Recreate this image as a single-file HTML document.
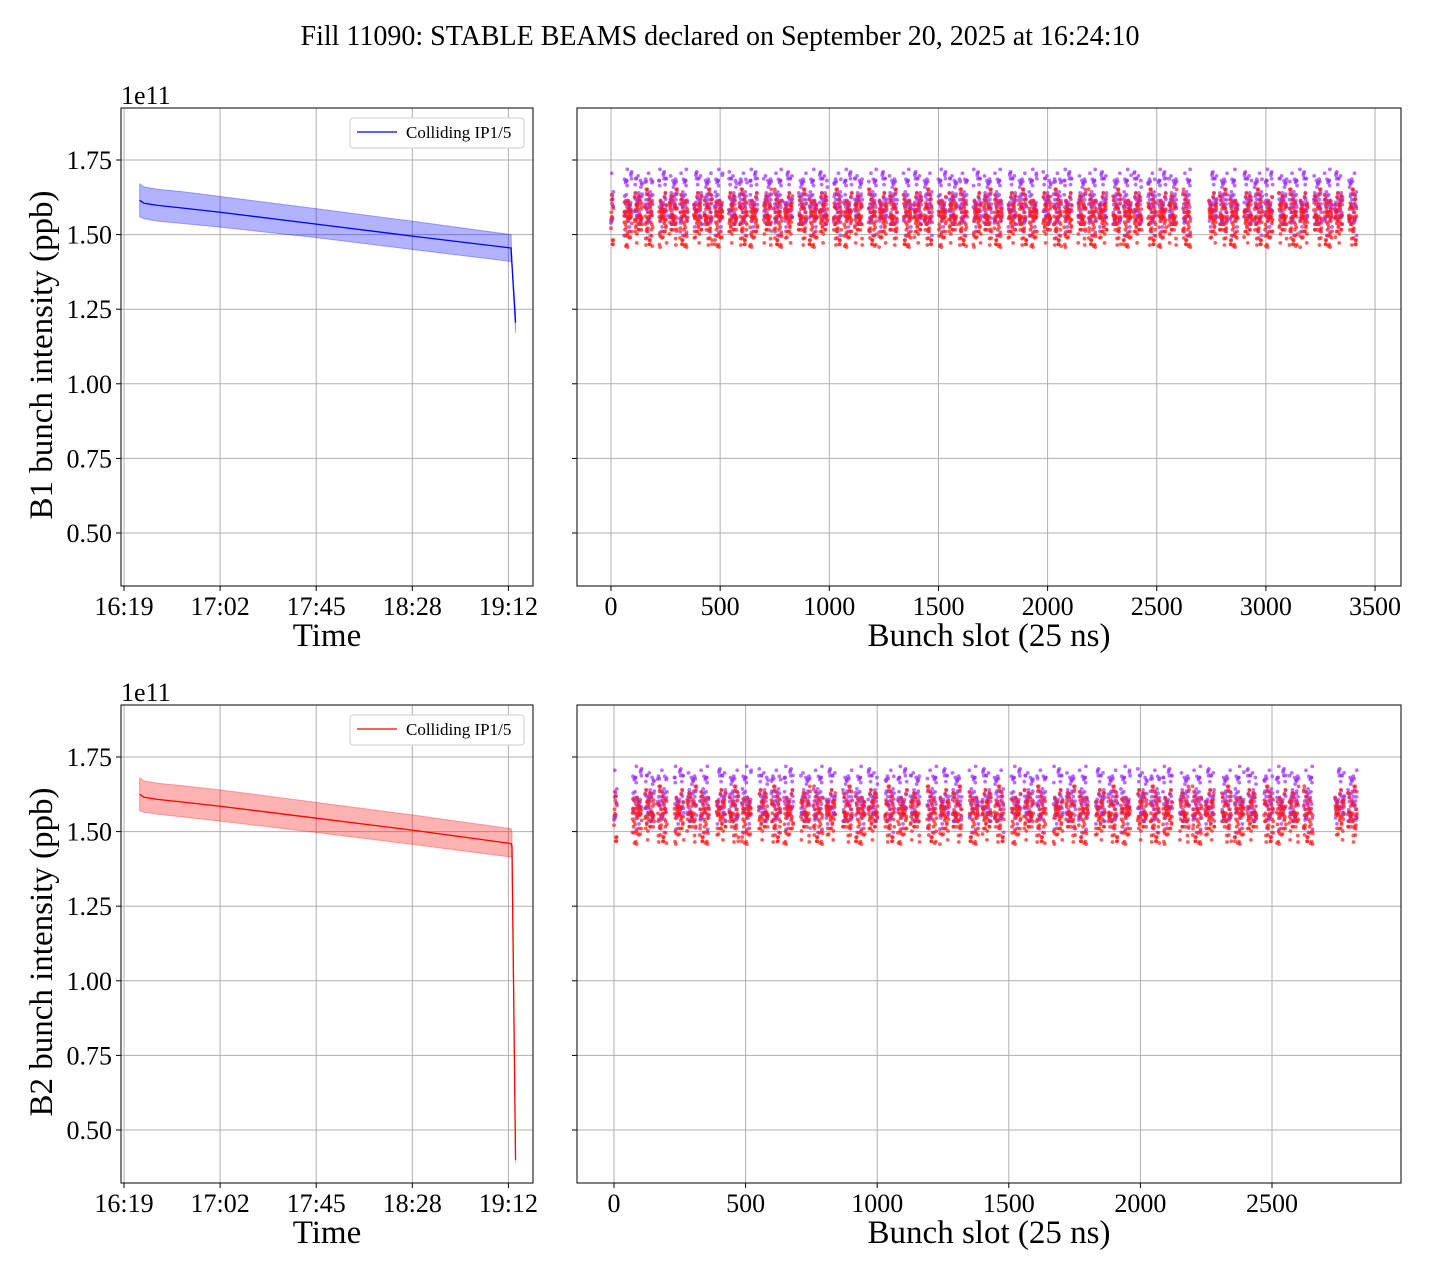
<!DOCTYPE html>
<html><head><meta charset="utf-8"><style>
body{margin:0;background:#fff;}
svg text{font-family:"Liberation Serif",serif;fill:#000;}
</style></head><body>
<svg id="c" width="1440" height="1280" xmlns="http://www.w3.org/2000/svg">
<text x="720" y="45" font-size="28" text-anchor="middle">Fill 11090: STABLE BEAMS declared on September 20, 2025 at 16:24:10</text>
</svg>
<script>
// ---- data ----
const timeTicks = ["16:19","17:02","17:45","18:28","19:12"];
const timeTickMin = [0,43,86,129,172];
const yTicks = [0.50,0.75,1.00,1.25,1.50,1.75];
const b1Time = [7,9,15,25,43,86,129,173.2,173.6,175.2];
const b1Mean = [1.615,1.605,1.598,1.590,1.575,1.535,1.495,1.455,1.40,1.205];
const b1Lo   = [1.56,1.553,1.545,1.538,1.525,1.49,1.45,1.41,1.40,1.17];
const b1Hi   = [1.67,1.66,1.652,1.645,1.628,1.587,1.545,1.50,1.40,1.24];
const b2Time = [7,9,15,25,43,86,129,173.2,173.6,175.2];
const b2Mean = [1.625,1.615,1.608,1.60,1.585,1.545,1.505,1.46,1.45,0.40];
const b2Lo   = [1.57,1.565,1.558,1.55,1.535,1.497,1.457,1.415,1.41,0.39];
const b2Hi   = [1.68,1.67,1.662,1.655,1.64,1.598,1.556,1.51,1.50,0.42];
const slotTicksTop = [0,500,1000,1500,2000,2500,3000,3500];
const slotTicksBot = [0,500,1000,1500,2000,2500];
const trainsTop = [0,60,108,156,220,268,316,380,428,476,540,588,636,700,748,796,860,908,956,1020,1068,1116,1180,1228,1276,1340,1388,1436,1500,1548,1596,1660,1708,1756,1820,1868,1916,1980,2028,2076,2140,2188,2236,2300,2348,2396,2460,2508,2556,2620,2740,2788,2836,2900,2948,2996,3060,3108,3156,3220,3268,3316,3380];
const trainsBot = [0,70,118,166,230,278,326,390,438,486,550,598,646,710,758,806,870,918,966,1030,1078,1126,1190,1238,1286,1350,1398,1446,1510,1558,1606,1670,1718,1766,1830,1878,1926,1990,2038,2086,2150,2198,2246,2310,2358,2406,2470,2518,2566,2620,2740,2788];
const trainLen = 36;
const purpleMean = 1.605, redMean = 1.55, spread = 0.07;
const jitter = [0.31,-0.52,0.83,-0.11,0.64,-0.93,0.22,-0.37,0.97,-0.61,0.13,0.48,-0.86,0.71,-0.24,0.06,-0.43,0.88,-0.72,0.35,-0.04,0.57,-0.99,0.17,0.66,-0.33,0.41,-0.18,0.79,-0.58,0.27,-0.77,0.53,-0.29,0.92,-0.46,0.02,-0.68,0.44,0.12,-0.84,0.59,-0.09,0.38,-0.51,0.74,-0.21,0.95,-0.63,0.19,-0.41,0.69,-0.14,0.28,-0.89,0.51,-0.02,0.81,-0.56,0.09,-0.31,0.62,-0.79,0.46,-0.16,0.33,-0.66,0.87,-0.26,0.04,-0.48,0.76,-0.94,0.23,0.55,-0.38,0.15,-0.71,0.99,-0.12,0.42,-0.59,0.29,-0.83,0.67,-0.07,0.36,-0.44,0.84,-0.19,0.11,-0.97,0.58,-0.34,0.72,-0.53,0.21];

const svg=document.getElementById('c');
const NS='http://www.w3.org/2000/svg';
function el(tag,attrs,parent){const e=document.createElementNS(NS,tag);for(const k in attrs)e.setAttribute(k,attrs[k]);(parent||svg).appendChild(e);return e;}
function txt(x,y,s,size,anchor,parent){const t=el('text',{x:x,y:y,'font-size':size,'text-anchor':anchor||'middle'},parent);t.textContent=s;return t;}
function yScale(top){const y0=top+52;return v=>y0+(1.75-v)/0.25*74.6;}
function panel(name){const g=el('g',{});
  
  
  return g;}
function frame(g,x,y,w,h){
  const r=el('rect',{x:x,y:y,width:w,height:h,fill:'none',stroke:'#000','stroke-width':1},g);
  
  
}
function clip(g,x,y,w,h,id){const cp=el('clipPath',{id:id},g);el('rect',{x:x,y:y,width:w,height:h},cp);}

function timePanel(top,times,mean,lo,hi,color,ylabel,nm){
  const x0=121,w=412,h=478;
  const g=panel(nm);
  const ys=yScale(top);
  const xs=m=>124+m*(96.1/43);
  clip(g,x0,top,w,h,nm+'-clip');
  yTicks.forEach(v=>{const y=ys(v);
    el('line',{x1:x0,x2:x0+w,y1:y,y2:y,stroke:'#b0b0b0','stroke-width':1},g);
    el('line',{x1:x0-5,x2:x0,y1:y,y2:y,stroke:'#000'},g);
    const t=txt(x0-9,y+9,v.toFixed(2),26,'end',g);
    
    });
  timeTicks.forEach((s,i)=>{const x=xs(timeTickMin[i]);
    el('line',{x1:x,x2:x,y1:top,y2:top+h,stroke:'#b0b0b0'},g);
    el('line',{x1:x,x2:x,y1:top+h,y2:top+h+5,stroke:'#000'},g);
    const t=txt(x,top+h+29,s,26,'middle',g);
    
    });
  let d='';
  times.forEach((m,i)=>{d+=(i?'L':'M')+xs(m)+','+ys(hi[i]);});
  for(let i=times.length-1;i>=0;i--)d+='L'+xs(times[i])+','+ys(lo[i]);
  const band=el('path',{d:d+'Z',fill:color,'fill-opacity':0.3,stroke:color,'stroke-opacity':0.3,'clip-path':'url(#'+nm+'-clip)'},g);
  
  
  const line=el('polyline',{points:times.map((m,i)=>xs(m)+','+ys(mean[i])).join(' '),fill:'none',stroke:color,'stroke-width':1.3},g);
  
  
  frame(g,x0,top,w,h);
  const e=txt(x0,top-4,'1e11',26,'start',g);
  
  
  const xl=txt(327,top+h+60,'Time',33,'middle',g);
  
  
  const yl=txt(0,0,ylabel,33,'middle',g);
  yl.setAttribute('transform','translate(52,'+(top+h/2+8)+') rotate(-90)');
  
  
  const lg=el('g',{},g);
  
  
  el('rect',{x:350,y:top+10,width:174,height:30,rx:3,fill:'#fff',stroke:'#ccc'},lg);
  el('line',{x1:357,x2:397,y1:top+24,y2:top+24,stroke:color,'stroke-width':1.3},lg);
  const lt=txt(406,top+30,'Colliding IP1/5',17,'start',lg);
  
  
}

function slotPanel(top,ticks,trains,pxPerSlot,x0slot,nm){
  const x0=577,w=824,h=478;
  const g=panel(nm);
  const ys=yScale(top);
  const xs=s=>x0slot+s*pxPerSlot;
  yTicks.forEach(v=>{const y=ys(v);
    el('line',{x1:x0,x2:x0+w,y1:y,y2:y,stroke:'#b0b0b0'},g);
    el('line',{x1:x0-5,x2:x0,y1:y,y2:y,stroke:'#000'},g);});
  ticks.forEach(s=>{const x=xs(s);
    el('line',{x1:x,x2:x,y1:top,y2:top+h,stroke:'#b0b0b0'},g);
    el('line',{x1:x,x2:x,y1:top+h,y2:top+h+5,stroke:'#000'},g);
    const t=txt(x,top+h+29,String(s),26,'middle',g);
    
    });
  const pg=el('g',{},g);
  
  
  const rg=el('g',{},g);
  
  
  const n=jitter.length;
  let k=0;
  trains.forEach((st,ti)=>{
    const len=ti===0?12:trainLen;
    for(let i=0;i<len;i++){
      const s=st+i;k++;
      const jp=jitter[(k*7)%n]+jitter[(k*13+5)%n]*0.8;
      const jr=jitter[(k*11+3)%n]+jitter[(k*17+29)%n]*0.8;
      const cp=el('circle',{cx:xs(s),cy:ys(purpleMean+spread*jp),r:1.9,fill:'#9b30ff','fill-opacity':0.7},pg);
      
      
      const cr=el('circle',{cx:xs(s),cy:ys(redMean+spread*jr),r:1.9,fill:'#ff1a1a','fill-opacity':0.7},rg);
      
      
    }
  });
  frame(g,x0,top,w,h);
  const xl=txt(989,top+h+60,'Bunch slot (25 ns)',33,'middle',g);
  
  
}

timePanel(108,b1Time,b1Mean,b1Lo,b1Hi,'#0000ff','B1 bunch intensity (ppb)','b1-time-panel');
timePanel(705,b2Time,b2Mean,b2Lo,b2Hi,'#ff0000','B2 bunch intensity (ppb)','b2-time-panel');
slotPanel(108,slotTicksTop,trainsTop,0.2183,611,'b1-slot-panel');
slotPanel(705,slotTicksBot,trainsBot,0.2632,614,'b2-slot-panel');
</script>
</body></html>
